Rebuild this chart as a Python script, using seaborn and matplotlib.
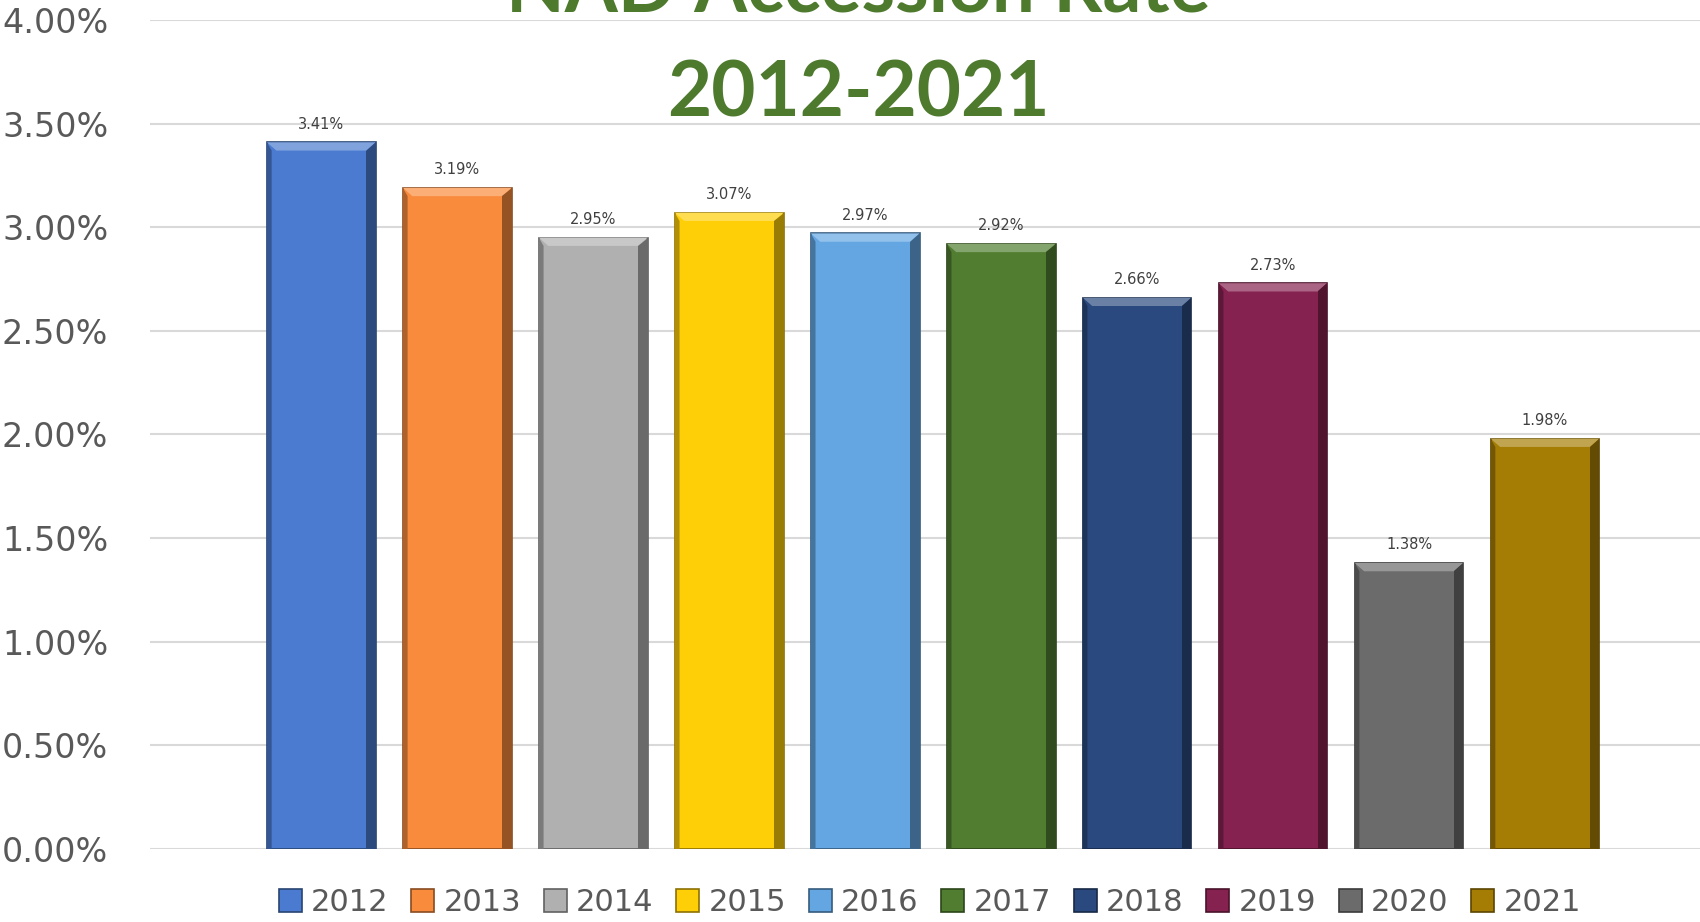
import numpy as np
import pandas as pd
import seaborn as sns
import matplotlib.pyplot as plt
from matplotlib.patches import Polygon, Rectangle
from matplotlib.colors import to_rgb

# Data
years = ["2012", "2013", "2014", "2015", "2016", "2017", "2018", "2019", "2020", "2021"]
rates = [3.41, 3.19, 2.95, 3.07, 2.97, 2.92, 2.66, 2.73, 1.38, 1.98]
colors = ["#4A7BD0", "#F98B3C", "#B0B0B0", "#FECE06", "#63A6E2",
          "#507D30", "#2A4A7F", "#86224F", "#6B6B6B", "#A57D05"]
yticks = [0.0, 0.5, 1.0, 1.5, 2.0, 2.5, 3.0, 3.5, 4.0]

df = pd.DataFrame({"year": years, "rate": rates})

sns.set_style("white")
plt.rcParams["font.family"] = ["DejaVu Sans"]


def shade(c, f):
    r, g, b = to_rgb(c)
    if f > 0:
        return (r + (1 - r) * f, g + (1 - g) * f, b + (1 - b) * f)
    return (r * (1 + f), g * (1 + f), b * (1 + f))


fig = plt.figure(figsize=(17, 9.22), dpi=100)
ax = fig.add_axes([0.0882, 0.0792, 0.9118, 0.8991])

sns.barplot(data=df, x="year", y="rate", hue="year", palette=colors,
            width=0.8, legend=False, saturation=1, ax=ax, zorder=3)

ax.set_ylim(0, 4.0)
ax.set_xlim(-1.26, 10.14)
ax.set_yticks(yticks)
ax.set_yticklabels([f"{t:.2f}%" for t in yticks], fontsize=24, color="#595959")
ax.tick_params(axis="y", length=0, pad=30)
ax.set_xticks([])
ax.set_xlabel("")
ax.set_ylabel("")
ax.grid(axis="y", color="#D9D9D9", linewidth=1.5, zorder=0)
for s in ax.spines.values():
    s.set_visible(False)

# bevel look on each bar, built from the bar geometry
bx = 0.07
by = 0.04
for p, c, v in zip(ax.patches, colors, rates):
    x0, w, h = p.get_x(), p.get_width(), p.get_height()
    x1, y1 = x0 + w, h
    p.set_edgecolor(shade(c, -0.45))
    p.set_linewidth(1.2)
    ax.add_patch(Polygon([(x0, y1), (x1, y1), (x1 - bx, y1 - by), (x0 + bx, y1 - by)],
                         closed=True, facecolor=shade(c, 0.3), edgecolor="none", zorder=4))
    ax.add_patch(Polygon([(x1, y1), (x1, 0), (x1 - bx, 0), (x1 - bx, y1 - by)],
                         closed=True, facecolor=shade(c, -0.4), edgecolor="none", zorder=4))
    ax.add_patch(Polygon([(x0, y1), (x0 + bx * 0.5, y1 - by), (x0 + bx * 0.5, 0), (x0, 0)],
                         closed=True, facecolor=shade(c, -0.3), edgecolor="none", zorder=4))
    ax.annotate(f"{v:.2f}%", (x0 + w / 2, y1), xytext=(0, 13), textcoords="offset points",
                ha="center", va="center", fontsize=10.5, color="#404040", zorder=5)

# title, first line is cut by the top of the picture
title_font = ["Lato", "DejaVu Sans"]
fig.text(0.505, 0.988, "NAD Accession Rate", ha="center", va="baseline",
         fontsize=55, fontweight="bold", color="#4E7A2E", family=title_font)
fig.text(0.505, 0.874, "2012-2021", ha="center", va="baseline",
         fontsize=55, fontweight="bold", color="#4E7A2E", family=title_font)

# legend
handles = [Rectangle((0, 0), 1, 1, facecolor=c, edgecolor=shade(c, -0.45), linewidth=1.2)
           for c in colors]
fig.legend(handles, years, loc="center", bbox_to_anchor=(0.547, 0.021), ncol=10,
           frameon=False, fontsize=22, labelcolor="#595959", handlelength=0.75,
           handleheight=0.75, handletextpad=0.3, columnspacing=0.75)

fig.savefig("out.png", dpi=100)
